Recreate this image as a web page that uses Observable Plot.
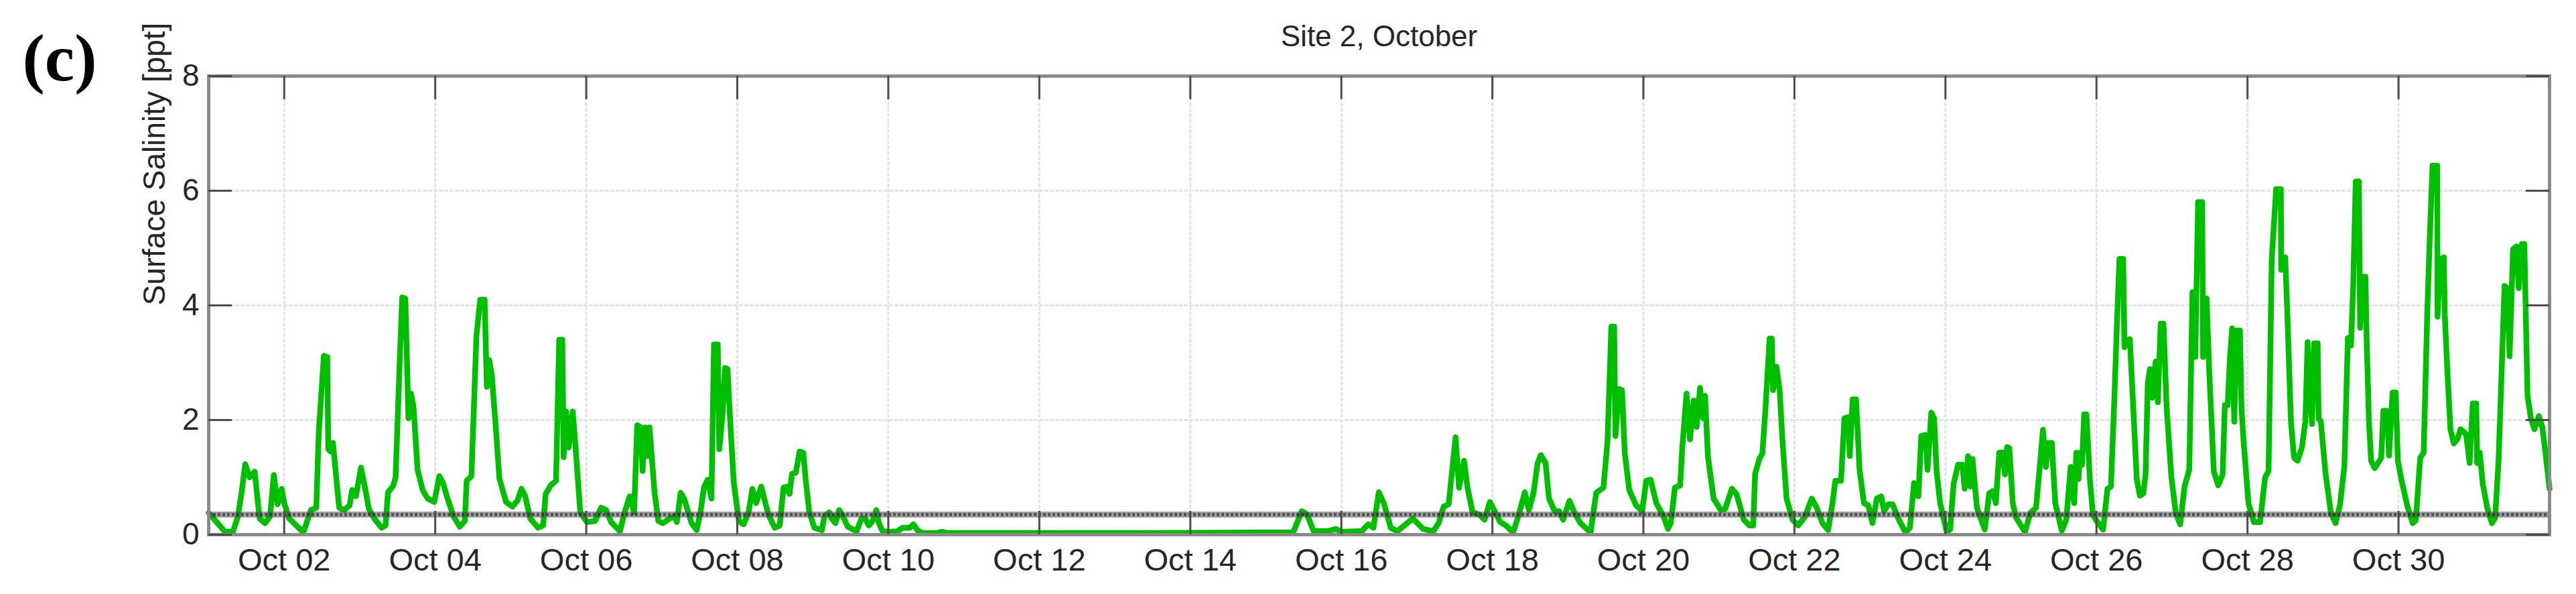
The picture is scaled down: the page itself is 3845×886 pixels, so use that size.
<!DOCTYPE html>
<html><head><meta charset="utf-8">
<script src="https://cdn.jsdelivr.net/npm/d3@7"></script>
<script src="https://cdn.jsdelivr.net/npm/@observablehq/plot@0.6"></script>
<style>html,body{margin:0;padding:0;background:#fff;} #chart{width:3845px;height:886px;}</style>
</head><body><div id="chart"></div>
<script>
// [hours since Oct 01 00:00, surface salinity ppt]
const salinityReadings = [
[0,0.38],[5.2,0.05],[7.7,0.05],[9.3,0.32],[10.5,0.75],[11.6,1.23],[13.0,1.0],[14.6,1.1],[16.2,0.28],[17.9,0.2],
[19.5,0.32],[20.7,1.04],[21.9,0.53],[23.2,0.8],[24.0,0.55],[25.6,0.28],[30.1,0.04],[32.5,0.43],[34.2,0.47],[35.0,1.8],
[36.6,3.12],[37.7,3.1],[38.0,1.49],[38.8,1.45],[39.5,1.6],[40.7,0.9],[41.5,0.47],[43.1,0.43],[44.8,0.51],[45.6,0.78],
[46.8,0.67],[48.4,1.17],[49.7,0.82],[50.9,0.45],[52.9,0.26],[55.0,0.12],[56.2,0.16],[57.0,0.74],[58.6,0.85],[59.4,1.0],
[60.7,3.0],[61.5,4.14],[62.5,4.12],[63.5,2.03],[64.3,2.46],[65.1,2.23],[66.4,1.13],[68.0,0.78],[69.6,0.63],[71.7,0.57],
[73.3,1.02],[74.5,0.9],[75.7,0.67],[77.8,0.32],[79.8,0.14],[81.4,0.24],[82.0,0.94],[83.5,1.02],[85.1,3.47],[86.3,4.1],
[87.7,4.1],[88.4,2.58],[89.2,3.04],[90.0,2.77],[91.2,1.91],[92.4,0.98],[94.5,0.57],[96.5,0.49],[98.1,0.59],[99.4,0.8],
[100.6,0.67],[102.2,0.28],[104.7,0.12],[106.3,0.16],[107.1,0.71],[108.7,0.86],[110.4,0.94],[111.4,3.4],[112.4,3.4],[112.8,1.35],
[113.6,2.15],[114.4,1.52],[115.7,2.15],[116.5,1.6],[118.1,0.39],[120.2,0.22],[122.8,0.24],[124.7,0.47],[126.3,0.43],[127.9,0.22],
[130.7,0.06],[132.2,0.39],[133.8,0.67],[135.2,0.39],[136.2,1.91],[137.4,1.87],[137.9,1.11],[138.7,1.87],[139.5,1.37],[140.1,1.87],
[141.7,0.74],[142.9,0.24],[144.4,0.2],[146.4,0.28],[148.0,0.32],[148.8,0.22],[150.0,0.73],[151.1,0.63],[153.5,0.2],[155.1,0.08],
[156.3,0.39],[157.4,0.82],[158.6,0.96],[159.8,0.63],[160.6,3.32],[161.8,3.32],[162.3,1.49],[163.4,2.15],[164.1,2.91],[164.9,2.89],
[165.7,2.03],[166.9,0.9],[168.5,0.24],[170.0,0.18],[171.6,0.39],[172.8,0.8],[174.0,0.55],[175.6,0.84],[176.4,0.67],[177.9,0.35],
[179.9,0.12],[181.5,0.16],[182.7,0.82],[183.8,0.84],[184.6,0.71],[185.4,1.06],[186.6,1.08],[187.8,1.45],[189.0,1.43],[189.7,0.98],
[190.9,0.39],[192.5,0.12],[194.9,0.08],[195.7,0.32],[197.2,0.39],[198.0,0.28],[199.2,0.2],[200.4,0.43],[201.6,0.32],[203.1,0.14],
[205.9,0.06],[207.5,0.28],[208.7,0.28],[209.8,0.16],[211.0,0.24],[212.2,0.43],[213.0,0.2],[214.2,0.06],[216.5,0.05],[218.9,0.06],
[220.5,0.12],[222.8,0.12],[224.0,0.18],[225.2,0.08],[226.8,0.03],[231.5,0.03],[233.1,0.05],[234.7,0.03],[300.0,0.03],[344.7,0.04],
[347.4,0.41],[349.1,0.35],[351.2,0.06],[355.6,0.06],[358.3,0.1],[359.9,0.05],[366.4,0.06],[368.6,0.18],[370.2,0.12],[371.9,0.74],
[373.5,0.55],[375.7,0.12],[377.8,0.06],[380.0,0.16],[382.7,0.28],[386.0,0.1],[389.2,0.06],[390.9,0.2],[392.5,0.49],[394.1,0.53],
[396.3,1.7],[397.4,0.82],[399.0,1.29],[400.1,0.82],[401.7,0.39],[403.9,0.35],[405.5,0.26],[407.2,0.57],[410.5,0.22],[412.3,0.16],
[414.6,0.04],[416.4,0.35],[418.3,0.74],[419.6,0.43],[421.0,0.71],[422.4,1.25],[423.4,1.39],[424.9,1.25],[426.0,0.63],[427.8,0.41],
[429.2,0.41],[430.5,0.26],[432.5,0.59],[434.2,0.37],[436.0,0.2],[439.2,0.04],[441.0,0.73],[443.3,0.82],[444.6,1.64],[445.8,3.63],
[446.7,3.63],[447.1,1.72],[448.3,2.54],[449.2,2.52],[450.1,1.41],[451.5,0.78],[453.7,0.51],[455.6,0.41],[456.9,0.94],[458.3,0.96],
[460.1,0.55],[462.4,0.32],[463.8,0.1],[464.7,0.2],[466.0,0.82],[467.7,0.86],[468.3,1.47],[469.7,2.46],[470.8,1.66],[472.0,2.34],
[472.9,1.88],[474.0,2.56],[475.0,2.03],[475.6,2.42],[476.5,1.37],[478.3,0.63],[480.6,0.43],[482.0,0.45],[484.1,0.8],[485.6,0.71],
[487.9,0.26],[489.7,0.16],[490.9,0.16],[491.5,1.06],[492.9,1.33],[493.8,1.41],[494.7,2.11],[496.1,3.42],[496.8,3.42],[497.2,2.52],
[498.3,2.93],[499.3,2.52],[500.2,1.64],[501.5,0.63],[503.4,0.26],[505.2,0.16],[507.4,0.32],[509.5,0.63],[511.1,0.47],[512.9,0.2],
[514.7,0.08],[516.1,0.55],[517.0,0.94],[518.8,0.94],[519.9,2.03],[521.1,2.05],[521.6,1.37],[522.5,2.36],[523.6,2.36],[524.7,1.13],
[526.1,0.55],[527.5,0.51],[528.8,0.2],[530.2,0.63],[531.6,0.67],[532.5,0.41],[533.8,0.53],[535.2,0.53],[537.0,0.28],[539.3,0.04],
[540.7,0.12],[542.0,0.9],[543.4,0.67],[544.3,1.72],[545.7,1.74],[546.3,1.13],[547.5,2.13],[548.4,2.03],[549.2,1.1],[550.3,0.55],
[552.4,0.05],[553.5,0.09],[554.6,0.89],[556.0,1.22],[557.4,1.22],[558.1,0.8],[559.2,1.37],[559.9,0.84],[560.6,1.32],[562.0,0.47],
[563.1,0.3],[564.5,0.09],[565.9,0.72],[567.0,0.76],[568.0,0.55],[569.1,1.43],[570.2,1.43],[570.9,1.05],[571.6,1.53],[572.3,1.51],
[573.4,0.55],[574.4,0.3],[577.3,0.05],[579.0,0.38],[580.8,0.47],[581.9,1.14],[583.0,1.83],[583.9,1.18],[584.7,1.6],[585.8,1.6],
[586.9,0.55],[589.0,0.07],[590.4,0.26],[591.8,1.18],[592.9,0.55],[593.6,1.43],[594.3,0.97],[594.8,1.43],[595.4,1.22],[596.1,2.1],
[596.8,2.1],[597.9,0.97],[598.9,0.34],[600.3,0.22],[602.1,0.09],[603.5,0.8],[604.6,0.84],[605.7,2.39],[606.4,3.52],[607.3,4.81],
[608.5,4.81],[608.9,3.27],[609.6,3.39],[610.6,3.41],[611.7,2.22],[612.8,0.97],[613.8,0.68],[614.9,0.72],[615.6,1.05],[616.3,2.64],
[617.0,2.89],[617.7,2.39],[618.8,3.02],[619.5,2.31],[620.4,3.68],[621.3,3.68],[622.3,2.22],[623.8,1.01],[625.2,0.38],[626.6,0.18],
[628.0,0.84],[629.5,1.14],[630.5,4.23],[631.4,3.1],[632.3,5.8],[633.6,5.8],[633.9,3.1],[635.0,4.12],[635.8,2.9],[637.3,1.1],
[638.7,0.86],[640.1,1.05],[640.8,2.26],[641.7,2.26],[642.4,3.06],[643.1,3.6],[643.8,1.97],[644.5,3.56],[645.6,3.56],[646.1,2.2],
[646.8,1.6],[648.3,0.55],[650.0,0.22],[652.0,0.22],[653.6,1.0],[654.7,1.11],[655.7,4.8],[657.1,6.03],[658.6,6.03],[658.7,4.62],
[660.0,4.84],[660.7,3.8],[661.8,1.98],[662.8,1.34],[663.9,1.29],[665.3,1.52],[666.4,1.98],[667.1,3.36],[668.5,1.93],[669.2,3.34],
[670.3,3.34],[670.6,2.02],[671.3,1.98],[672.8,1.07],[674.5,0.38],[676.0,0.2],[677.4,0.52],[678.8,1.2],[679.9,3.43],[680.9,3.3],
[681.6,4.34],[682.4,6.16],[683.4,6.16],[683.8,3.61],[684.8,4.5],[685.5,4.5],[685.9,3.34],[686.6,1.98],[687.3,1.29],[688.4,1.16],
[689.5,1.25],[690.5,1.34],[691.2,2.16],[692.3,2.16],[693.0,1.38],[694.1,2.48],[695.1,2.48],[695.8,1.29],[696.9,0.97],[698.7,0.52],
[700.5,0.2],[701.5,0.25],[702.9,1.34],[704.0,1.43],[705.1,3.8],[705.8,4.98],[706.8,6.44],[708.3,6.44],[708.4,3.8],[709.3,4.8],
[710.4,4.84],[710.7,3.84],[711.5,2.89],[712.5,1.84],[713.6,1.59],[714.7,1.66],[715.7,1.84],[716.8,1.79],[717.5,1.75],[718.6,1.25],
[719.6,2.29],[720.7,2.29],[721.0,1.25],[721.8,1.43],[722.8,0.88],[724.2,0.47],[725.7,0.2],[726.7,0.29],[727.8,1.29],[728.8,2.89],
[729.7,4.34],[730.6,4.3],[731.3,3.11],[732.4,4.98],[733.5,5.03],[734.2,4.3],[735.2,5.07],[736.0,5.07],[736.3,4.25],[737.0,2.43],
[738.1,2.02],[739.2,1.84],[740.6,2.07],[741.7,1.88],[742.7,1.43],[744.0,0.8]
];
const thresholdValue = 0.35;
const tickDays = [2,4,6,8,10,12,14,16,18,20,22,24,26,28,30];
const xTickLabels = ["Oct 02","Oct 04","Oct 06","Oct 08","Oct 10","Oct 12","Oct 14","Oct 16","Oct 18","Oct 20","Oct 22","Oct 24","Oct 26","Oct 28","Oct 30"];
const yTicks = [0,2,4,6,8];
const yTickLabels = ["0","2","4","6","8"];
const yGrid = [2,4,6];
const titleText = "Site 2, October";
const panelLabel = "(c)";
const yLabel = "Surface Salinity [ppt]";

const base = Date.UTC(2016, 9, 1);
const end = Date.UTC(2016, 10, 1);
const data = salinityReadings.map(([h, v]) => ({t: new Date(base + h * 3600e3), v}));
const tickDates = tickDays.map(d => new Date(Date.UTC(2016, 9, d)));
const labelByTime = new Map(tickDates.map((d, i) => [+d, xTickLabels[i]]));
const yLabelByValue = new Map(yTicks.map((d, i) => [d, yTickLabels[i]]));

const W = 3845, H = 886, mL = 311, mR = 40, mT = 113, mB = 89;
const fw = W - mL - mR, fh = H - mT - mB, tk = 35;
const tickStyle = {stroke: "#4d4d4d", strokeWidth: 3};

const chart = Plot.plot({
  width: W, height: H,
  marginLeft: mL, marginRight: mR, marginTop: mT, marginBottom: mB,
  style: {fontFamily: "'Liberation Sans', Arial, sans-serif", background: "#fff", overflow: "visible", color: "#262626"},
  x: {type: "utc", domain: [new Date(base), new Date(end)]},
  y: {domain: [0, 8]},
  marks: [
    Plot.gridX(tickDates, {stroke: "#e4e4e4", strokeOpacity: 1, strokeWidth: 3, strokeDasharray: "6,2"}),
    Plot.gridY(yGrid, {stroke: "#e4e4e4", strokeOpacity: 1, strokeWidth: 3, strokeDasharray: "6,2"}),
    Plot.lineY(data, {x: "t", y: "v", stroke: "#00bf00", strokeWidth: 8.5, strokeLinejoin: "round", strokeLinecap: "round"}),
    Plot.ruleY([thresholdValue], {stroke: "#555", strokeOpacity: 0.55, strokeWidth: 9}),
    Plot.ruleY([thresholdValue], {stroke: "#222", strokeOpacity: 0.6, strokeWidth: 5, strokeDasharray: "4,3"}),
    Plot.frame({stroke: "#8a8a8a", strokeWidth: 5}),
    Plot.tickX(tickDates, {x: d => d, insetTop: fh - tk, ...tickStyle}),
    Plot.tickX(tickDates, {x: d => d, insetBottom: fh - tk, ...tickStyle}),
    Plot.tickY(yTicks, {y: d => d, insetRight: fw - tk, ...tickStyle}),
    Plot.tickY(yTicks, {y: d => d, insetLeft: fw - tk, ...tickStyle}),
    Plot.axisX(tickDates, {tickSize: 0, tickPadding: 20, fontSize: 47, label: null, fill: "#262626",
      tickFormat: d => labelByTime.get(+d)}),
    Plot.axisY(yTicks, {tickSize: 0, tickPadding: 14, fontSize: 46, label: null, fill: "#262626",
      tickFormat: d => yLabelByValue.get(d)}),
    Plot.text([yLabel], {frameAnchor: "left", dx: -80, rotate: -90, fontSize: 46, fill: "#262626"}),
    Plot.text([titleText], {frameAnchor: "top", dy: -45, lineAnchor: "bottom", fontSize: 44, fill: "#262626"}),
    Plot.text([panelLabel], {frameAnchor: "top-left", dx: -278, dy: 6, lineAnchor: "bottom", textAnchor: "start",
      fontSize: 100, fontWeight: "bold", fontFamily: "'Liberation Serif', 'Times New Roman', serif", fill: "#000"})
  ]
});
document.getElementById("chart").appendChild(chart);
</script>
</body></html>
